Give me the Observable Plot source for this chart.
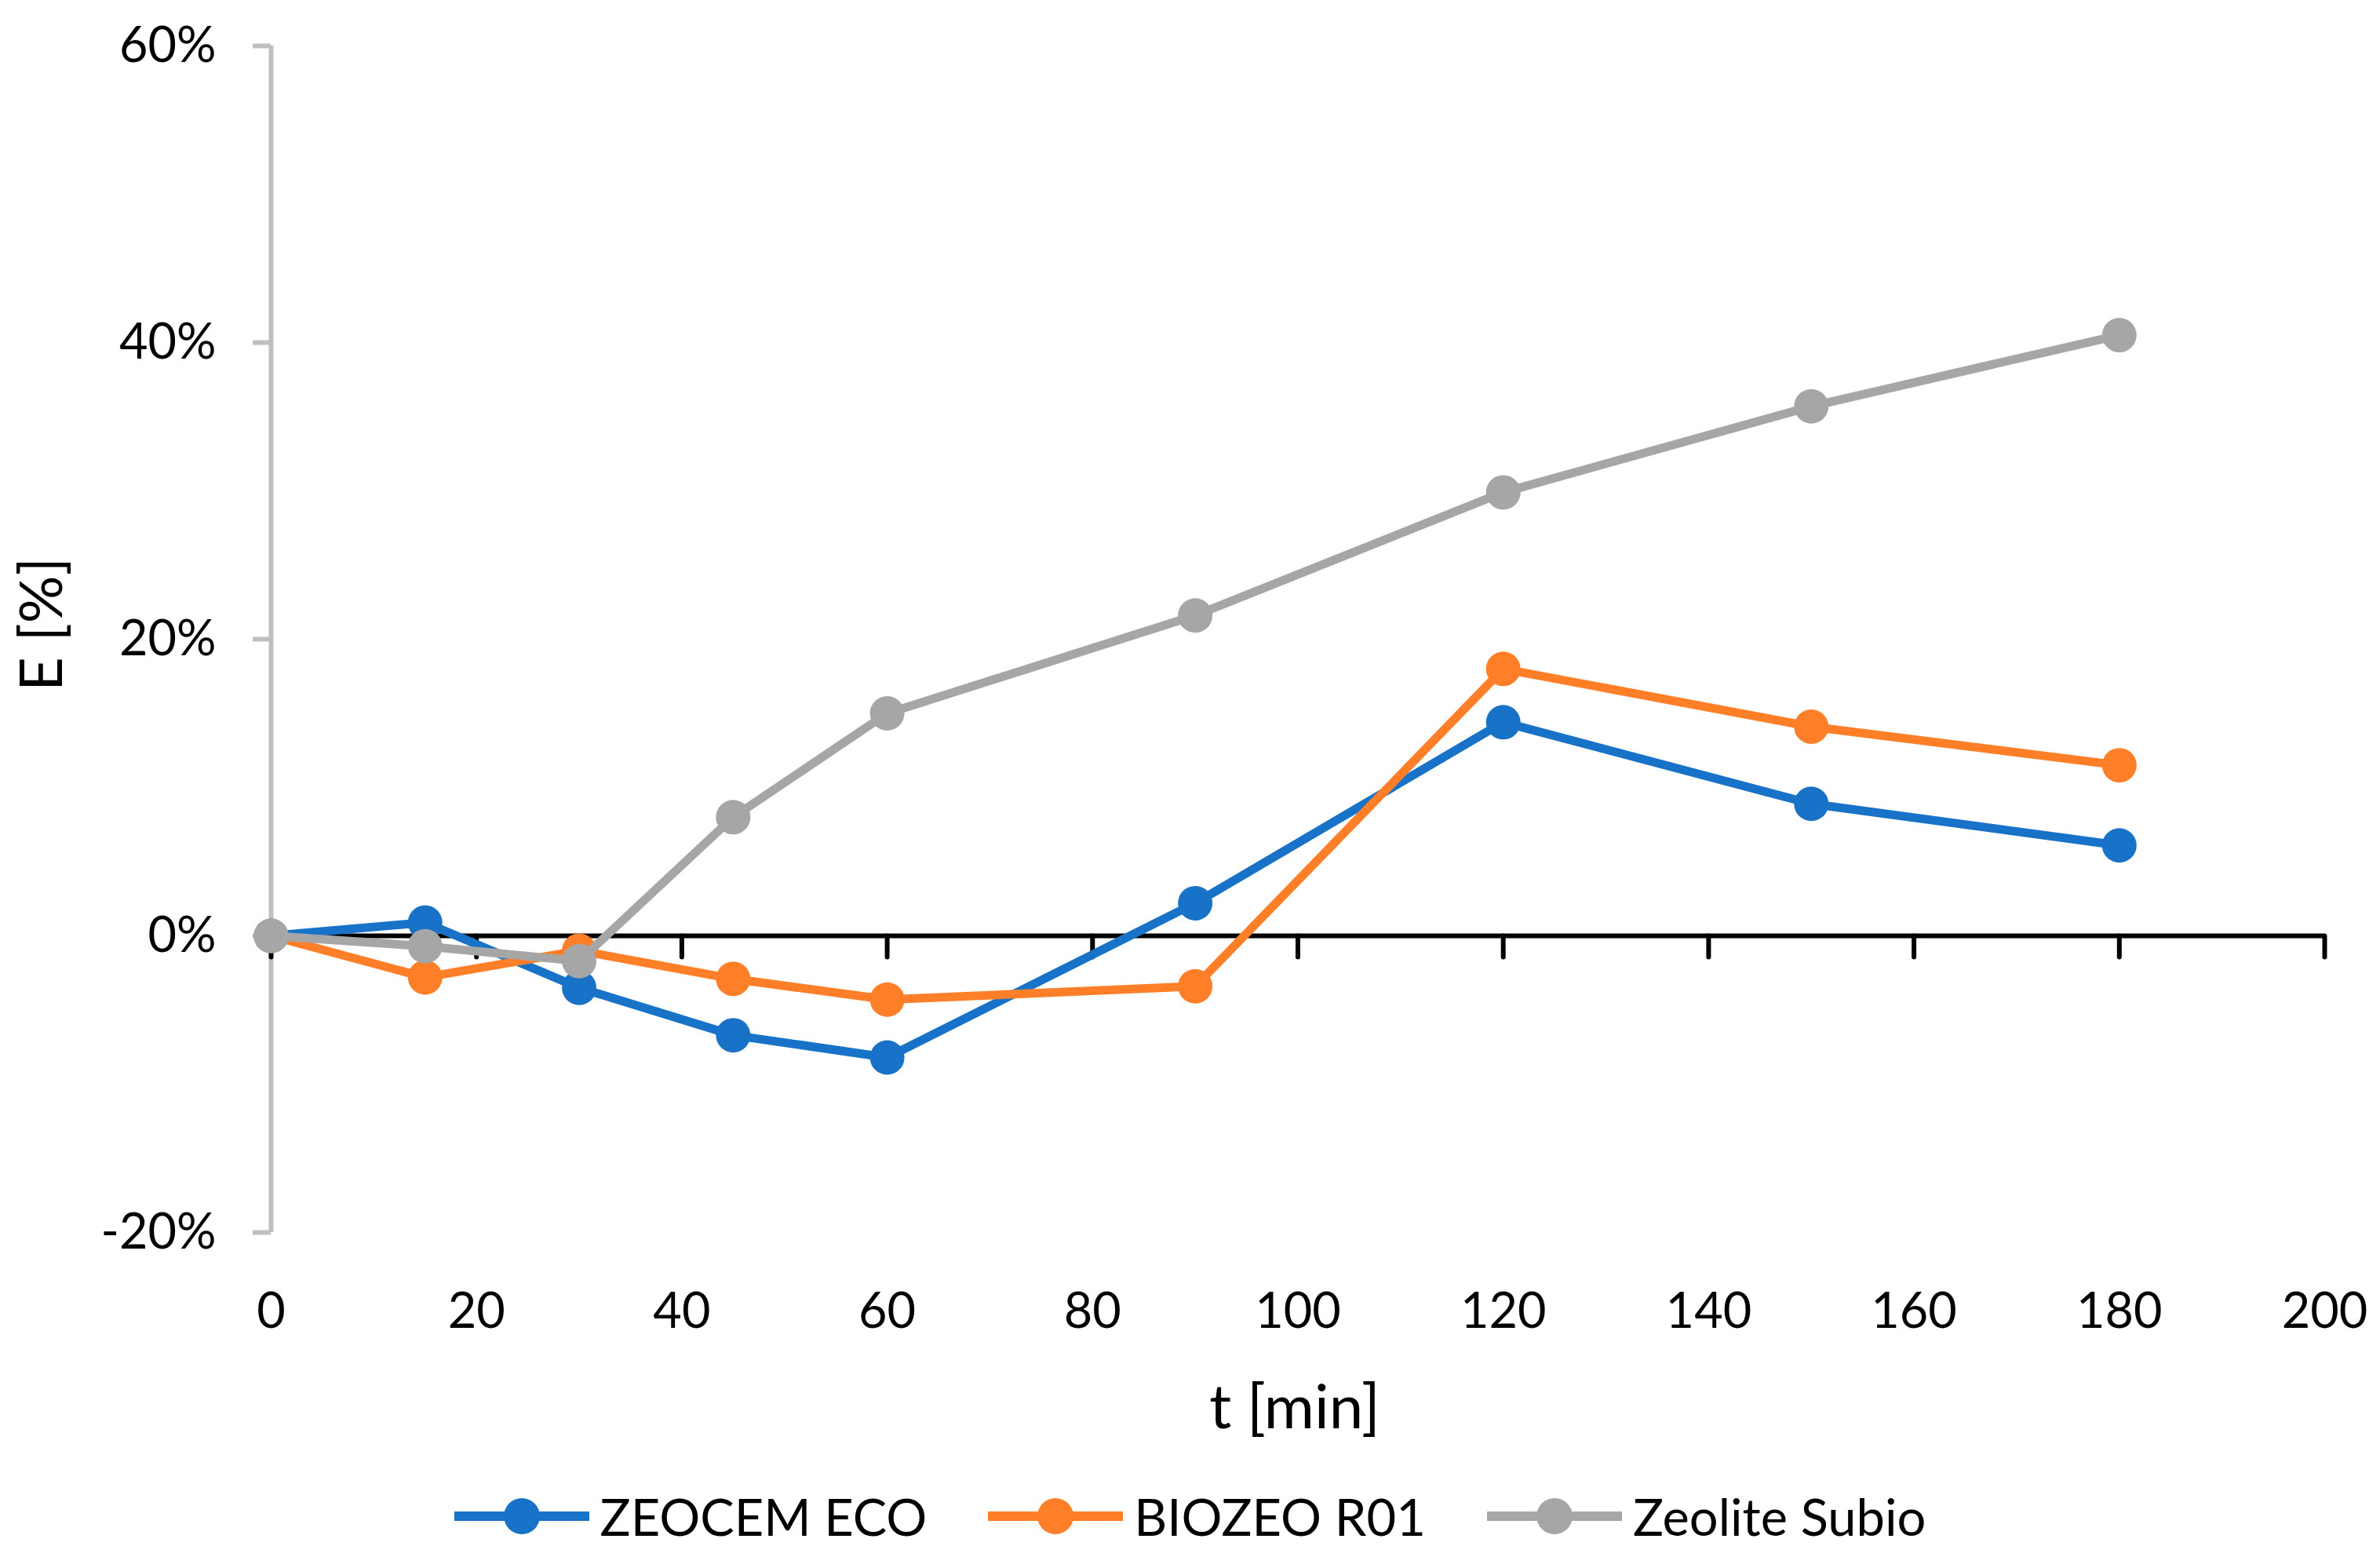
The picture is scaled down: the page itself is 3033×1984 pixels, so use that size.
<!DOCTYPE html>
<html>
<head>
<meta charset="utf-8">
<script src="https://cdn.jsdelivr.net/npm/d3@7"></script>
<script src="https://cdn.jsdelivr.net/npm/@observablehq/plot@0.6"></script>
<style>
  html, body { margin: 0; padding: 0; background: white; }
  body { width: 3033px; font-family: Lato, "Open Sans", sans-serif; }
  #legend { height: 104px; display: flex; justify-content: center; align-items: center; font-size: 65px; color: black; }
  .item { display: flex; align-items: center; margin: 0 39px; }
  .item svg { margin-right: 14px; }
</style>
</head>
<body>
<div id="chart"></div>
<div id="legend"></div>
<script>
// Data
const times = [0, 15, 30, 45, 60, 90, 120, 150, 180];
const zeocemEco = [0, 0.9, -3.5, -6.7, -8.2, 2.2, 14.4, 8.9, 6.1];
const biozeoR01 = [0, -2.8, -1.0, -2.9, -4.3, -3.4, 18.0, 14.1, 11.5];
const zeoliteSubio = [0, -0.7, -1.7, 8.0, 15.0, 21.6, 29.9, 35.7, 40.5];
const seriesNames = ["ZEOCEM ECO", "BIOZEO R01", "Zeolite Subio"];
const seriesColors = ["#1873c8", "#fe7f27", "#a6a6a6"];
const xTicks = [0, 20, 40, 60, 80, 100, 120, 140, 160, 180, 200];
const yTicks = [-20, 0, 20, 40, 60];

const seriesValues = [zeocemEco, biozeoR01, zeoliteSubio];
const rows = seriesNames.map((name, i) => times.map((t, j) => ({t, v: seriesValues[i][j], series: name})));

const seriesMarks = [];
rows.forEach((data, i) => {
  seriesMarks.push(Plot.line(data, {x: "t", y: "v", stroke: seriesColors[i], strokeWidth: 11, strokeLinejoin: "round"}));
  seriesMarks.push(Plot.dot(data, {x: "t", y: "v", r: 22, fill: seriesColors[i], stroke: "none"}));
});

const chart = Plot.plot({
  width: 3033,
  height: 1880,
  marginLeft: 345,
  marginRight: 71,
  marginTop: 58,
  marginBottom: 310,
  style: {fontFamily: "Lato, 'Open Sans', sans-serif", fontSize: "63px", background: "white", color: "black"},
  x: {domain: [0, 200]},
  y: {domain: [-20, 60]},
  marks: [
    Plot.ruleX([0], {stroke: "#bfbfbf", strokeWidth: 6}),
    Plot.axisY({ticks: yTicks, tickSize: 23, tickFormat: () => "", stroke: "#bfbfbf", strokeWidth: 6, label: null}),
    Plot.axisY({ticks: yTicks, tickSize: 0, tickPadding: 70, tickFormat: d => d + "%", fill: "black", label: null}),
    Plot.ruleY([0], {stroke: "black", strokeWidth: 6}),
    Plot.vector(xTicks, {x: d => d, y: 0, length: 27, rotate: 180, anchor: "start", r: 0, stroke: "black", strokeWidth: 6}),
    Plot.axisX({ticks: xTicks, tickSize: 0, tickPadding: 77, label: null, fill: "black"}),
    ...seriesMarks,
    Plot.text(["E [%]"], {text: d => d, frameAnchor: "left", textAnchor: "middle", lineAnchor: "middle", dx: -291, dy: -19, rotate: -90, fontSize: 76, fill: "black"}),
    Plot.text(["t [min]"], {text: d => d, frameAnchor: "bottom", textAnchor: "middle", lineAnchor: "middle", dx: -4, dy: 225, fontSize: 78, fill: "black"})
  ]
});
document.getElementById("chart").appendChild(chart);

// Legend
const legend = document.getElementById("legend");
seriesNames.forEach((name, i) => {
  const item = document.createElement("div");
  item.className = "item";
  item.innerHTML = `<svg width="172" height="50"><line x1="0" y1="25" x2="172" y2="25" stroke="${seriesColors[i]}" stroke-width="12"/><circle cx="86" cy="25" r="23" fill="${seriesColors[i]}"/></svg><span>${name}</span>`;
  legend.appendChild(item);
});
</script>
</body>
</html>
